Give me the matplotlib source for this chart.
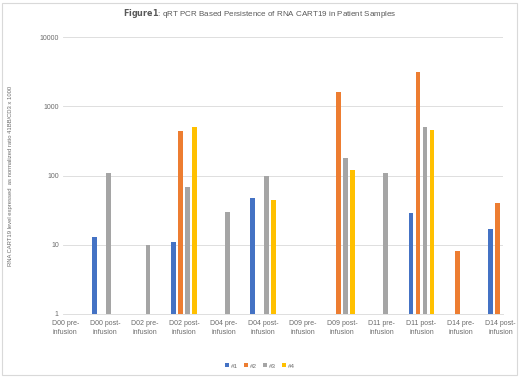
import matplotlib.pyplot as plt
import matplotlib.patches as patches
import numpy as np

plt.rcParams['font.family'] = ['Liberation Sans', 'DejaVu Sans']

categories = ["D00 pre-\ninfusion", "D00 post-\ninfusion", "D02 pre-\ninfusion", "D02 post-\ninfusion",
              "D04 pre-\ninfusion", "D04 post-\ninfusion", "D09 pre-\ninfusion", "D09 post-\ninfusion",
              "D11 pre-\ninfusion", "D11 post-\ninfusion", "D14 pre-\ninfusion", "D14 post-\ninfusion"]
series_names = ["#1", "#2", "#3", "#4"]
# nan = no value for that sample
nan = np.nan
s1 = [nan, 13, nan, 11, nan, 47, nan, nan, nan, 29, nan, 17]
s2 = [nan, nan, nan, 440, nan, nan, nan, 1600, nan, 3100, 8, 40]
s3 = [nan, 110, 10, 69, 30, 100, nan, 176, 110, 510, nan, nan]
s4 = [nan, nan, nan, 500, nan, 44, nan, 120, nan, 450, nan, nan]
colors = ['#4472C4', '#ED7D31', '#A5A5A5', '#FFC000']

txt = '#6b6b6b'
grid = '#D9D9D9'

fig = plt.figure(figsize=(5.2, 3.78), dpi=100)
ax = fig.add_axes([63/520, 1-314/378, 440/520, 277/378])

x = np.arange(len(categories))
slot = 0.177
width = 0.125
for i, (vals, c, name) in enumerate(zip([s1, s2, s3, s4], colors, series_names)):
    ax.bar(x + (i - 1.5)*slot, vals, width, color=c, label=name, zorder=3)

ax.set_yscale('log')
ax.set_ylim(1, 10000)
ax.set_xlim(-0.06, 11.06)
ax.set_yticks([1, 10, 100, 1000, 10000])
ax.set_yticklabels(['1', '10', '100', '1000', '10000'])
ax.minorticks_off()
ax.yaxis.grid(True, color=grid, linewidth=0.6, zorder=0)
ax.tick_params(axis='y', length=0, labelsize=5, labelcolor=txt, pad=3)
ax.set_xticks(x)
ax.set_xticklabels(categories, fontsize=5, color=txt, linespacing=1.5)
ax.tick_params(axis='x', length=0, pad=4)
for side in ['top', 'right', 'left']:
    ax.spines[side].set_visible(False)
ax.spines['bottom'].set_color(grid)
ax.spines['bottom'].set_linewidth(0.6)

ax.set_ylabel('RNA CART19 level expressed  as normalized ratio 41BB/CD3 x 1000',
              fontsize=4.2, color=txt)
ax.yaxis.set_label_coords(-50/440, 0.5)

fig.text(0.5, 1-14/378, r'$\bf{Figure1}$: qRT PCR Based Persistence of RNA CART19 in Patient Samples',
         ha='center', va='center', fontsize=5.8, color='#595959')

fig.legend(loc='center', bbox_to_anchor=(0.5, 1-366/378), ncol=4, frameon=False,
           fontsize=4.5, handlelength=0.6, handleheight=0.6, handletextpad=0.3,
           columnspacing=1.0, labelcolor=txt)

fig.patches.append(patches.Rectangle((2/520, 3/378), 515/520, 372/378, transform=fig.transFigure,
                                     fill=False, edgecolor=grid, linewidth=0.8))

fig.savefig('out.png', dpi=100)
